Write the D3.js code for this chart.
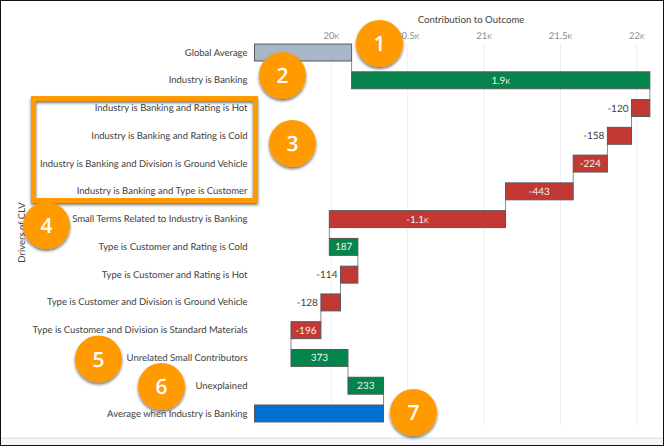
<!DOCTYPE html>
<html><head><meta charset="utf-8">
<script src="https://cdn.jsdelivr.net/npm/d3@7/dist/d3.min.js"></script>
<style>
html,body{margin:0;padding:0;background:#fff}
svg{display:block;font-family:Lato,sans-serif;text-rendering:geometricPrecision}
.k{font-variant:small-caps}
</style></head><body><div id="c"></div>
<script>
const categories=["Global Average","Industry is Banking","Industry is Banking and Rating is Hot","Industry is Banking and Rating is Cold","Industry is Banking and Division is Ground Vehicle","Industry is Banking and Type is Customer","Small Terms Related to Industry is Banking","Type is Customer and Rating is Cold","Type is Customer and Rating is Hot","Type is Customer and Division is Ground Vehicle","Type is Customer and Division is Standard Materials","Unrelated Small Contributors","Unexplained","Average when Industry is Banking"];
const contributions=[20136,1953,-120,-158,-224,-443,-1154,187,-114,-128,-196,373,233,null];
const valueLabels=[null,"1.9k","-120","-158","-224","-443","-1.1k","187","-114","-128","-196","373","233",null];
const tickValues=[20000,20500,21000,21500,22000];
const tickLabels=["20k","20.5k","21k","21.5k","22k"];
const callouts=["1","2","3","4","5","6","7"];
const calloutX=[379.5,282.5,292.5,46.5,98.5,161.5,413.5];
const calloutY=[43.5,75.5,143.5,225.5,359,386.5,412.5];

const W=664,H=446,axisMin=19500,fs="9.5px";
const svg=d3.select("#c").append("svg").attr("width",W).attr("height",H);
const defs=svg.append("defs");
const f=defs.append("filter").attr("id","sh").attr("x","-20%").attr("y","-20%").attr("width","150%").attr("height","150%");
f.append("feDropShadow").attr("dx",0).attr("dy",2).attr("stdDeviation",1.4).attr("flood-color","#000").attr("flood-opacity",.55);

// page furniture
svg.append("rect").attr("x",0).attr("y",438).attr("width",W).attr("height",8).attr("fill","#f4f6f9");
svg.append("line").attr("x1",0).attr("x2",W).attr("y1",438).attr("y2",438).attr("stroke","#d8dde6");

const x=d3.scaleLinear().domain([axisMin,22090]).range([254.5,650]);
const y=d3.scaleBand().domain(categories).range([38.5,427.5]).paddingInner(.39).paddingOuter(.2);

// running waterfall
let run=0;
const rows=categories.map((c,i)=>{
  const v=contributions[i];
  if(i===0){run=v;return {c,i,a:axisMin,b:v,end:v,type:"base"}}
  if(v===null){return {c,i,a:axisMin,b:run,end:run,type:"total"}}
  const a=run;run+=v;return {c,i,a:Math.min(a,run),b:Math.max(a,run),end:run,type:v>=0?"up":"down",w:Math.abs(v)};
});
const color={base:"#a8b7c7",up:"#04844b",down:"#c23934",total:"#0070d2"};

// grid
svg.append("g").selectAll("line").data(tickValues).join("line")
  .attr("x1",d=>x(d)+.5).attr("x2",d=>x(d)+.5).attr("y1",44).attr("y2",425)
  .attr("stroke","#e9eff6").attr("stroke-width",1);

// axes
const axisX=d3.axisTop(x).tickValues(tickValues).tickSize(0).tickPadding(0).tickFormat((d,i)=>tickLabels[i]);
const gt=svg.append("g").attr("transform","translate(0,38.5)").call(axisX);
gt.select(".domain").remove();
gt.selectAll("text").attr("class","k").attr("fill","#8a8a8a").style("font-size",fs).style("font-family","Lato,sans-serif");

const axisY=d3.axisLeft(y).tickSize(0).tickPadding(0);
const gl=svg.append("g").attr("transform","translate(247.5,0)").call(axisY);
gl.select(".domain").remove();
gl.selectAll("text").attr("fill","#3e3e3c").style("font-size",fs).style("font-family","Lato,sans-serif");

svg.append("text").attr("x",471).attr("y",22.5).attr("text-anchor","middle").attr("fill","#3e3e3c").style("font-size","9.6px").text("Contribution to Outcome");
svg.append("text").attr("transform","translate(25,232.5) rotate(-90)").attr("text-anchor","middle").attr("fill","#3e3e3c").style("font-size",fs).text("Drivers of CLV");

// connectors
svg.append("g").selectAll("line").data(rows.slice(0,-1)).join("line")
  .attr("x1",d=>x(d.end)).attr("x2",d=>x(d.end))
  .attr("y1",d=>y(d.c)+y.bandwidth()).attr("y2",d=>y(categories[d.i+1]))
  .attr("stroke","#8a8a8a").attr("stroke-width",1);

// bars
svg.append("g").selectAll("rect").data(rows).join("rect")
  .attr("x",d=>x(d.a)).attr("width",d=>x(d.b)-x(d.a))
  .attr("y",d=>y(d.c)).attr("height",y.bandwidth())
  .attr("fill",d=>color[d.type]).attr("stroke","#54585c").attr("stroke-width",1);

// value labels
svg.append("g").selectAll("text").data(rows.filter(d=>valueLabels[d.i])).join("text")
  .attr("class","k")
  .attr("x",d=>{const wide=x(d.b)-x(d.a)>26;return wide?(x(d.a)+x(d.b))/2:x(d.a)-3})
  .attr("y",d=>y(d.c)+y.bandwidth()/2+3.5)
  .attr("text-anchor",d=>x(d.b)-x(d.a)>26?"middle":"end")
  .attr("fill",d=>x(d.b)-x(d.a)>26?"#f0f4f2":"#3e3e3c")
  .style("font-size","10px").text(d=>valueLabels[d.i]);

// callout box
svg.append("rect").attr("x",33.5).attr("y",98.5).attr("width",222).attr("height",102)
  .attr("fill","none").attr("stroke","#ff9a00").attr("stroke-width",5).attr("filter","url(#sh)");

// callout badges
const b=svg.append("g").selectAll("g").data(callouts).join("g")
  .attr("transform",(d,i)=>`translate(${calloutX[i]},${calloutY[i]})`);
b.append("circle").attr("r",23.5).attr("fill","#ff9a00").attr("filter","url(#sh)");
b.append("text").attr("text-anchor","middle").attr("y",7.5).attr("fill","#fff").style("font-size","21px").style("font-weight",600).style("font-family","'Open Sans',sans-serif").text(d=>d);

// screenshot frame
svg.append("rect").attr("x",.5).attr("y",.5).attr("width",W-1).attr("height",H-1).attr("fill","none").attr("stroke","#111").attr("stroke-width",1);
</script></body></html>
